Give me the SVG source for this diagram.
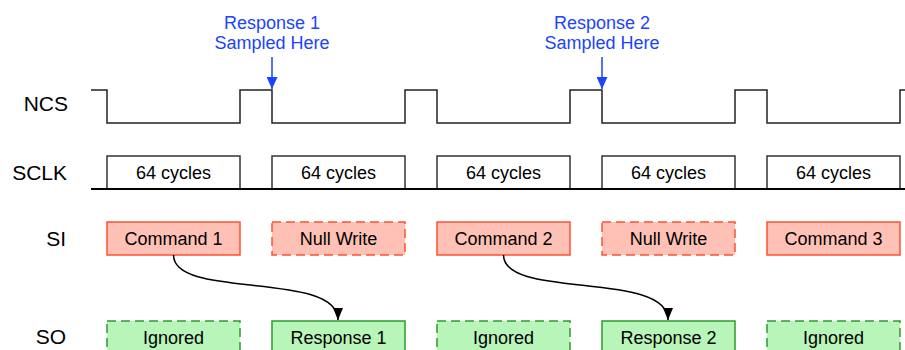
<svg xmlns="http://www.w3.org/2000/svg" width="905" height="350" viewBox="0 0 905 350">
<style>
text{font-family:"Liberation Sans",Arial,sans-serif}
.lbl{font-size:21px;fill:#000;text-anchor:end}
.bt{font-size:18px;fill:#000;text-anchor:middle}
.note{font-size:18px;fill:#1a44ff;text-anchor:middle}
.clk{fill:#fff;stroke:#333;stroke-width:1.5}
.si{fill:#ffc1b6;stroke:#ff5030;stroke-width:1.5}
.so{fill:#b8f5b8;stroke:#2d9b2d;stroke-width:1.5}
.dash{stroke-dasharray:9 5}
.wave{fill:none;stroke:#222;stroke-width:1.5}
.conn{fill:none;stroke:#000;stroke-width:1.5}
</style>
<defs>
<marker id="ah" markerWidth="12" markerHeight="10" refX="12" refY="5" orient="auto" markerUnits="userSpaceOnUse">
<path d="M0,0 L12,5 L0,10 Z" fill="#000"/>
</marker>
<marker id="bh" markerWidth="12" markerHeight="11" refX="12" refY="5.5" orient="auto" markerUnits="userSpaceOnUse">
<path d="M0,0 L12,5.5 L0,11 Z" fill="#1a44ff"/>
</marker>
</defs>
<rect width="905" height="350" fill="#fff"/>
<g id="labels">
<text class="lbl" x="68" y="111">NCS</text>
<text class="lbl" x="67" y="180">SCLK</text>
<text class="lbl" x="66" y="246">SI</text>
<text class="lbl" x="66" y="344">SO</text>
</g>
<g id="ncs">
<path class="wave" d="M91,90 H107 V123 H240 V90 H272 V123 H405 V90 H437 V123 H570 V90 H602 V123 H735 V90 H767 V123 H900 V90 H905"/>
</g>
<g id="sclk">
<rect class="clk" x="107" y="156" width="133" height="33"/>
<rect class="clk" x="272" y="156" width="133" height="33"/>
<rect class="clk" x="437" y="156" width="133" height="33"/>
<rect class="clk" x="602" y="156" width="133" height="33"/>
<rect class="clk" x="767" y="156" width="133" height="33"/>
<line x1="91" y1="189" x2="905" y2="189" stroke="#000" stroke-width="2"/>
<text class="bt" x="173.5" y="179">64 cycles</text>
<text class="bt" x="338.5" y="179">64 cycles</text>
<text class="bt" x="503.5" y="179">64 cycles</text>
<text class="bt" x="668.5" y="179">64 cycles</text>
<text class="bt" x="833.5" y="179">64 cycles</text>
</g>
<g id="si-cmd1"><rect class="si" x="107" y="222" width="133" height="33"/><text class="bt" x="173.5" y="245">Command 1</text></g>
<g id="si-null1"><rect class="si dash" x="272" y="222" width="133" height="33"/><text class="bt" x="338.5" y="245">Null Write</text></g>
<g id="si-cmd2"><rect class="si" x="437" y="222" width="133" height="33"/><text class="bt" x="503.5" y="245">Command 2</text></g>
<g id="si-null2"><rect class="si dash" x="602" y="222" width="133" height="33"/><text class="bt" x="668.5" y="245">Null Write</text></g>
<g id="si-cmd3"><rect class="si" x="767" y="222" width="133" height="33"/><text class="bt" x="833.5" y="245">Command 3</text></g>
<g id="so-ign1"><rect class="so dash" x="107" y="321" width="133" height="34"/><text class="bt" x="173.5" y="344">Ignored</text></g>
<g id="so-resp1"><rect class="so" x="272" y="321" width="133" height="34"/><text class="bt" x="338.5" y="344">Response 1</text></g>
<g id="so-ign2"><rect class="so dash" x="437" y="321" width="133" height="34"/><text class="bt" x="503.5" y="344">Ignored</text></g>
<g id="so-resp2"><rect class="so" x="602" y="321" width="133" height="34"/><text class="bt" x="668.5" y="344">Response 2</text></g>
<g id="so-ign3"><rect class="so dash" x="767" y="321" width="133" height="34"/><text class="bt" x="833.5" y="344">Ignored</text></g>
<g id="note1"><text class="note" x="272" y="29">Response 1</text><text class="note" x="272" y="49">Sampled Here</text></g>
<g id="note2"><text class="note" x="602" y="29">Response 2</text><text class="note" x="602" y="49">Sampled Here</text></g>
<g id="connectors">
<path class="conn" d="M173.5,255 C173.5,300 338,270 338,320" marker-end="url(#ah)"/>
<path class="conn" d="M503.5,255 C503.5,300 668,270 668,320" marker-end="url(#ah)"/>
<line x1="272" y1="57" x2="272" y2="89" stroke="#1a44ff" stroke-width="1.5" marker-end="url(#bh)"/>
<line x1="602" y1="57" x2="602" y2="89" stroke="#1a44ff" stroke-width="1.5" marker-end="url(#bh)"/>
</g>
</svg>
